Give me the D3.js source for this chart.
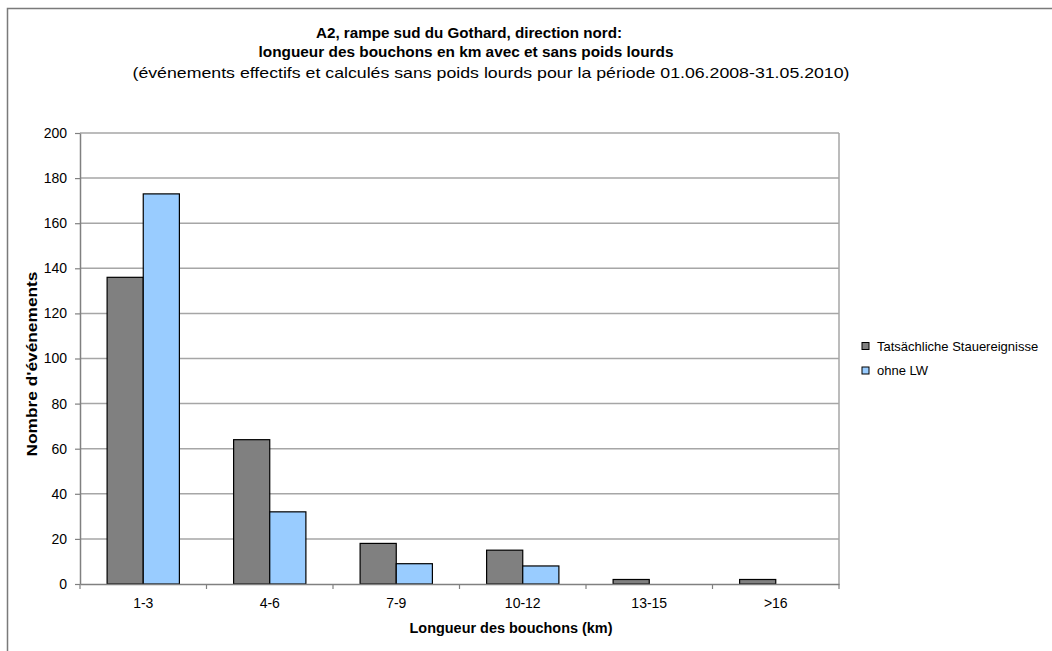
<!DOCTYPE html>
<html>
<head>
<meta charset="utf-8">
<script src="https://cdn.jsdelivr.net/npm/d3@7"></script>
<style>
  html, body { margin: 0; padding: 0; background: #fff; }
  svg { display: block; font-family: "Liberation Sans", Arial, sans-serif; }
</style>
</head>
<body>
<svg id="chart" width="1052" height="651"></svg>
<script>
// Traffic-jam length classes (km)
const categories = ["1-3", "4-6", "7-9", "10-12", "13-15", ">16"];
// Number of events per class
const actualEvents = [136, 64, 18, 15, 2, 2];      // Tatsächliche Stauereignisse
const withoutHGV = [173, 32, 9, 8, 0, 0];          // ohne LW
const seriesNames = ["Tatsächliche Stauereignisse", "ohne LW"];
const yTicks = [0, 20, 40, 60, 80, 100, 120, 140, 160, 180, 200];
const titleLines = [
  "A2, rampe sud du Gothard, direction nord:",
  "longueur des bouchons en km avec et sans poids lourds",
  "(événements effectifs et calculés sans poids lourds pour la période 01.06.2008-31.05.2010)"
];

const seriesColors = ["#808080", "#99ccff"];

const svg = d3.select("#chart");

// Outer chart frame (runs off the right and bottom edges)
svg.append("rect")
  .attr("x", 7.5).attr("y", 8.5)
  .attr("width", 1100).attr("height", 700)
  .attr("fill", "#fff")
  .attr("stroke", "#7a7a7a").attr("stroke-width", 1.5);

const plot = { left: 80, right: 839, top: 133, bottom: 584 };

const x0 = d3.scaleBand()
  .domain(categories)
  .range([plot.left, plot.right])
  .paddingInner(0).paddingOuter(0);

// Two bars per class, 150% gap between groups
const barW = x0.bandwidth() / 3.5;
const x1 = d3.scaleBand()
  .domain([0, 1])
  .range([0, 2 * barW]);

const y = d3.scaleLinear().domain([0, 200]).range([plot.bottom, plot.top]);

// Horizontal gridlines
svg.append("g")
  .selectAll("line")
  .data(yTicks.filter(t => t > 0))
  .join("line")
  .attr("x1", plot.left).attr("x2", plot.right)
  .attr("y1", d => y(d)).attr("y2", d => y(d))
  .attr("stroke", "#a6a6a6").attr("stroke-width", 1.5);

// Right border of the plot area
svg.append("line")
  .attr("x1", plot.right).attr("x2", plot.right)
  .attr("y1", plot.top).attr("y2", plot.bottom)
  .attr("stroke", "#a6a6a6").attr("stroke-width", 1.5);

// Bars
const groups = svg.append("g")
  .selectAll("g")
  .data(categories)
  .join("g")
  .attr("transform", d => `translate(${x0(d) + (x0.bandwidth() - 2 * barW) / 2},0)`);

groups.selectAll("rect")
  .data((d, i) => [actualEvents[i], withoutHGV[i]].map((v, s) => ({ v, s })))
  .join("rect")
  .filter(d => d.v > 0)
  .attr("x", d => x1(d.s))
  .attr("width", x1.bandwidth())
  .attr("y", d => y(d.v))
  .attr("height", d => y(0) - y(d.v))
  .attr("fill", d => seriesColors[d.s])
  .attr("stroke", "#000").attr("stroke-width", 1.2);

// Y axis
const yAxis = svg.append("g")
  .attr("transform", `translate(${plot.left},0)`)
  .call(d3.axisLeft(y).tickValues(yTicks).tickSize(5).tickPadding(8).tickSizeOuter(0));
yAxis.select(".domain").attr("stroke", "#808080").attr("stroke-width", 1.5);
yAxis.selectAll(".tick line").attr("stroke", "#808080").attr("stroke-width", 1.2);
yAxis.selectAll(".tick text")
  .attr("font-size", 14).attr("fill", "#000")
  .attr("font-family", "Liberation Sans, Arial, sans-serif");

// X axis with ticks between the classes
const xAxis = svg.append("g")
  .attr("transform", `translate(0,${plot.bottom})`)
  .call(d3.axisBottom(x0).tickSize(0).tickPadding(14).tickSizeOuter(0));
xAxis.select(".domain").attr("stroke", "#808080").attr("stroke-width", 1.5);
xAxis.selectAll(".tick text")
  .attr("font-size", 14).attr("fill", "#000")
  .attr("font-family", "Liberation Sans, Arial, sans-serif");
svg.append("g")
  .selectAll("line")
  .data(categories.map(c => x0(c)).concat([plot.right]))
  .join("line")
  .attr("x1", d => d).attr("x2", d => d)
  .attr("y1", plot.bottom).attr("y2", plot.bottom + 5)
  .attr("stroke", "#808080").attr("stroke-width", 1.2);

// Titles (each line centred on its own anchor and set to its own width)
const titleSpecs = [
  { x: 469, y: 38, weight: "bold", len: 306 },
  { x: 466, y: 57, weight: "bold", len: 415 },
  { x: 491, y: 78, weight: "normal", len: 717 }
];
svg.append("g")
  .selectAll("text")
  .data(titleLines)
  .join("text")
  .attr("x", (d, i) => titleSpecs[i].x)
  .attr("y", (d, i) => titleSpecs[i].y)
  .attr("text-anchor", "middle")
  .attr("font-size", 15)
  .attr("font-weight", (d, i) => titleSpecs[i].weight)
  .attr("textLength", (d, i) => titleSpecs[i].len)
  .attr("lengthAdjust", "spacingAndGlyphs")
  .text(d => d);

// Axis titles
svg.append("text")
  .attr("x", 511).attr("y", 633)
  .attr("text-anchor", "middle")
  .attr("font-size", 14).attr("font-weight", "bold")
  .attr("textLength", 203).attr("lengthAdjust", "spacingAndGlyphs")
  .text("Longueur des bouchons (km)");

svg.append("text")
  .attr("transform", "translate(37,364) rotate(-90)")
  .attr("text-anchor", "middle")
  .attr("font-size", 14).attr("font-weight", "bold")
  .attr("textLength", 185).attr("lengthAdjust", "spacingAndGlyphs")
  .text("Nombre d'événements");

// Legend
const legend = svg.append("g")
  .selectAll("g")
  .data(seriesNames)
  .join("g")
  .attr("transform", (d, i) => `translate(862,${346 + i * 24.5})`);
legend.append("rect")
  .attr("x", 0).attr("y", -3.5)
  .attr("width", 7).attr("height", 7)
  .attr("fill", (d, i) => seriesColors[i])
  .attr("stroke", "#000").attr("stroke-width", 1);
legend.append("text")
  .attr("x", 15).attr("y", 4.5)
  .attr("font-size", 13)
  .text(d => d);
</script>
</body>
</html>
